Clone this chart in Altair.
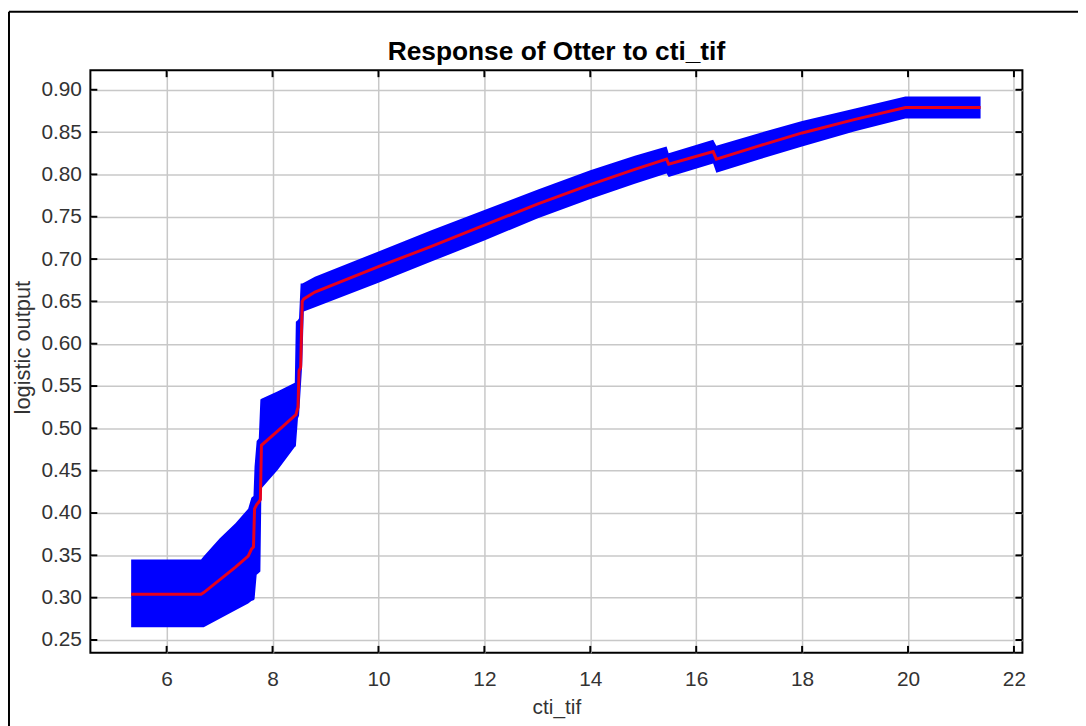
import altair as alt
import pandas as pd

# ---- data ----
x_vals = [5.33, 6.65, 6.70, 7.00, 7.30, 7.54, 7.60, 7.64, 7.66, 7.70, 7.74, 7.77, 7.79,
          8.10, 8.42, 8.44, 8.48, 8.50, 8.53, 8.56, 8.59, 8.80, 10.0, 11.0, 12.0,
          13.0, 14.0, 14.84, 15.44, 15.48, 16.32, 16.38, 17.2, 18.0, 19.0, 19.95, 21.37]
mean_vals = [0.304, 0.304, 0.306, 0.321, 0.336, 0.349, 0.357, 0.360, 0.405, 0.410, 0.413, 0.416, 0.480,
             0.497, 0.515, 0.516, 0.525, 0.568, 0.572, 0.650, 0.653, 0.661, 0.691, 0.715, 0.740,
             0.765, 0.788, 0.806, 0.818, 0.812, 0.827, 0.818, 0.834, 0.849, 0.865, 0.879, 0.879]
lo_vals = [0.265, 0.265, 0.265, 0.275, 0.285, 0.293, 0.296, 0.297, 0.298, 0.327, 0.329, 0.331, 0.429,
           0.451, 0.478, 0.479, 0.512, 0.515, 0.545, 0.575, 0.638, 0.643, 0.672, 0.697, 0.722,
           0.748, 0.771, 0.789, 0.801, 0.797, 0.813, 0.802, 0.818, 0.833, 0.851, 0.866, 0.866]
hi_vals = [0.345, 0.345, 0.349, 0.370, 0.388, 0.405, 0.418, 0.420, 0.455, 0.485, 0.488, 0.534, 0.535,
           0.544, 0.554, 0.626, 0.628, 0.630, 0.671, 0.671, 0.672, 0.679, 0.709, 0.734, 0.758,
           0.782, 0.805, 0.822, 0.833, 0.825, 0.841, 0.834, 0.849, 0.863, 0.878, 0.892, 0.892]

x_ticks = [6, 8, 10, 12, 14, 16, 18, 20, 22]
y_ticks = [0.25, 0.30, 0.35, 0.40, 0.45, 0.50, 0.55, 0.60, 0.65, 0.70, 0.75, 0.80, 0.85, 0.90]

title_text = "Response of Otter to cti_tif"
x_title = "cti_tif"
y_title = "logistic output"

# ---- layout / style ----
W, H = 939, 587
XDOM = [4.56, 22.16]
YDOM = [0.2348, 0.9231]
FONT = "Liberation Sans"
TICK = 7

df = pd.DataFrame({"cti_tif": x_vals, "mean": mean_vals, "lo": lo_vals, "hi": hi_vals})
xt = pd.DataFrame({"t": x_ticks})
yt = pd.DataFrame({"t": y_ticks})
one = pd.DataFrame({"a": [0]})

xscale = alt.Scale(domain=XDOM, nice=False, zero=False)
yscale = alt.Scale(domain=YDOM, nice=False, zero=False)

xaxis = alt.Axis(values=x_ticks, title=x_title, grid=True, gridColor="#c8c8c8", gridWidth=1.5,
                 ticks=False, domain=False, labelFontSize=21, labelColor="#333333",
                 labelPadding=16, labelFlush=False, labelOverlap=False,
                 titleFontSize=21, titleFontWeight="normal", titleColor="#333333", titlePadding=7,
                 labelFont=FONT, titleFont=FONT)
yaxis = alt.Axis(values=y_ticks, format=".2f", title=y_title, grid=True, gridColor="#c8c8c8",
                 gridWidth=1.5, ticks=False, domain=False, labelFontSize=21,
                 labelColor="#333333", labelPadding=9, labelFlush=False, labelOverlap=False,
                 titleFontSize=22, titleFontWeight="normal", titleColor="#333333", titlePadding=6,
                 titleY=279, labelFont=FONT, titleFont=FONT)

X = alt.X("cti_tif:Q", scale=xscale, axis=xaxis)

band = alt.Chart(df).mark_area(color="#0000ff", opacity=1).encode(
    x=X,
    y=alt.Y("lo:Q", scale=yscale, axis=yaxis),
    y2="hi:Q",
)
line = alt.Chart(df).mark_line(color="#e8001c", strokeWidth=3).encode(
    x=X,
    y=alt.Y("mean:Q", scale=yscale, axis=yaxis),
)

tx = alt.X("t:Q", scale=xscale, axis=xaxis)
ty = alt.Y("t:Q", scale=yscale, axis=yaxis)
tick_bottom = alt.Chart(xt).mark_rule(color="black", strokeWidth=2).encode(
    x=tx, y=alt.value(H), y2=alt.value(H - TICK))
tick_top = alt.Chart(xt).mark_rule(color="black", strokeWidth=2).encode(
    x=tx, y=alt.value(0), y2=alt.value(TICK))
tick_left = alt.Chart(yt).mark_rule(color="black", strokeWidth=2).encode(
    y=ty, x=alt.value(0), x2=alt.value(TICK))
tick_right = alt.Chart(yt).mark_rule(color="black", strokeWidth=2).encode(
    y=ty, x=alt.value(W), x2=alt.value(W - TICK))

title = alt.Chart(one).mark_text(font=FONT, fontSize=26.5, fontWeight="bold", color="black",
                                 baseline="alphabetic", align="center").encode(
    x=alt.value(W / 2), y=alt.value(-10), text=alt.value(title_text))

frame_left = alt.Chart(one).mark_rule(color="black", strokeWidth=2).encode(
    x=alt.value(-82), y=alt.value(-59), y2=alt.value(720))
frame_top = alt.Chart(one).mark_rule(color="black", strokeWidth=2).encode(
    x=alt.value(-82), x2=alt.value(1100), y=alt.value(-59))

chart = alt.layer(
    band, line, tick_bottom, tick_top, tick_left, tick_right, title, frame_left, frame_top
).properties(
    width=W, height=H,
    autosize=alt.AutoSizeParams(type="none"),
    padding={"left": 83, "top": 60, "right": 56, "bottom": 71},
    background="white",
).configure_view(stroke="black", strokeWidth=2)

chart.save("out.html", embed_options={"renderer": "svg", "actions": False})
